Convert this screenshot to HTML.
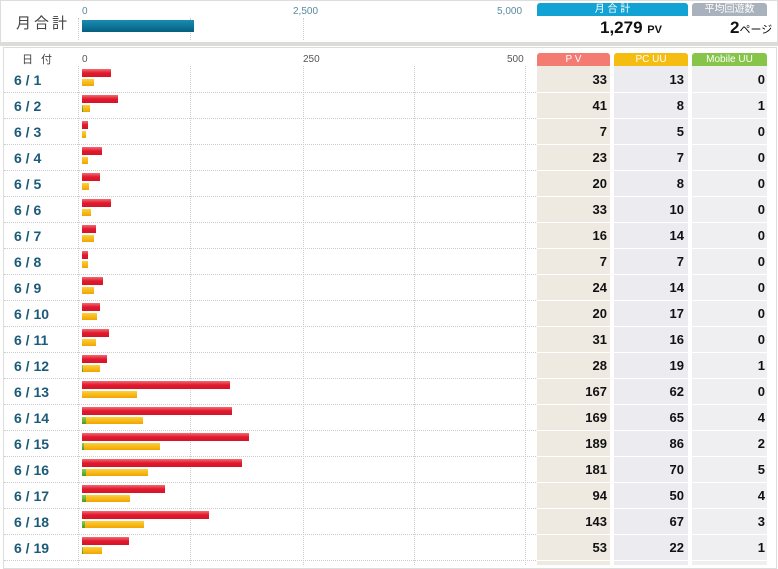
<!DOCTYPE html>
<html><head><meta charset="utf-8">
<style>
body{margin:0;width:778px;height:565px;overflow:hidden;background:#fff;font-family:"Liberation Sans","Noto Sans CJK JP",sans-serif;position:relative}
.abs{position:absolute}
.tick{position:absolute;font-size:10px;color:#5a8aa0}
.tab{position:absolute;height:13px;font-size:10px;color:#fff;text-align:center;line-height:13px;border-radius:3px 3px 0 0;overflow:hidden}
.val{position:absolute;font-weight:bold;font-size:13px;text-align:right;color:#111}
.date{position:absolute;font-weight:bold;font-size:14px;color:#1b5a78;left:14px}
</style></head><body>
<div class="abs" style="left:0;top:0;width:776px;height:41px;border:1px solid #ddd;background:#fff"></div>
<div class="abs" style="left:0;top:42px;width:778px;height:4px;background:#dcdcd8"></div>
<div class="abs" style="left:16px;top:12px;font-size:15px;color:#444;letter-spacing:3px">月合計</div>
<div class="tick" style="left:82px;top:6px">0</div>
<div class="tick" style="left:293px;top:6px">2,500</div>
<div class="tick" style="left:497px;top:6px">5,000</div>
<div class="abs" style="left:190px;top:18px;height:22px;border-left:1px dotted #ccc"></div>
<div class="abs" style="left:303px;top:18px;height:22px;border-left:1px dotted #ccc"></div>
<div class="abs" style="left:78px;top:18px;height:22px;border-left:1px dotted #ccc"></div>
<div class="abs" style="left:82px;top:20px;width:112px;height:12px;background:linear-gradient(#1a8cb4,#065f80)"></div>
<div class="tab" style="left:537px;top:3px;width:151px;background:#12a3d4">月 合 計</div>
<div class="tab" style="left:692px;top:3px;width:75px;background:#a9b2bc">平均回遊数</div>
<div class="abs" style="left:600px;top:18px;font-size:17px;font-weight:bold;color:#111">1,279 <span style="font-size:11px">PV</span></div>
<div class="abs" style="left:730px;top:18px;font-size:17px;font-weight:bold;color:#111">2<span style="font-size:11px;font-weight:normal">ページ</span></div>

<div class="abs" style="left:3px;top:47px;width:772px;height:520px;border:1px solid #ddd"></div>
<div class="abs" style="left:22px;top:51px;font-size:11px;color:#444;letter-spacing:8px">日付</div>
<div class="tick" style="left:82px;top:54px;color:#555">0</div>
<div class="tick" style="left:303px;top:54px;color:#555">250</div>
<div class="tick" style="left:507px;top:54px;color:#555">500</div>
<div id="rows"></div>
<div class="tab" style="left:537px;top:53px;width:73px;background:#f47b72">P V</div>
<div class="tab" style="left:614px;top:53px;width:74px;background:#f5bd12">PC UU</div>
<div class="tab" style="left:692px;top:53px;width:75px;background:#86c44a">Mobile UU</div>
<script>
const dates=["6 / 1","6 / 2","6 / 3","6 / 4","6 / 5","6 / 6","6 / 7","6 / 8","6 / 9","6 / 10","6 / 11","6 / 12","6 / 13","6 / 14","6 / 15","6 / 16","6 / 17","6 / 18","6 / 19"];
const pv=[33,41,7,23,20,33,16,7,24,20,31,28,167,169,189,181,94,143,53];
const pcuu=[13,8,5,7,8,10,14,7,14,17,16,19,62,65,86,70,50,67,22];
const mobile=[0,1,0,0,0,0,0,0,0,0,0,1,0,4,2,5,4,3,1];
const x0=82,scale=0.885;
const xs=v=>v*scale;
const root=document.getElementById('rows');
function mk(css,name){const d=document.createElement('div');d.style.cssText='position:absolute;'+css;


root.appendChild(d);return d;}
[190,303,414,525].forEach(x=>{mk(`left:${x}px;top:66px;height:499px;border-left:1px dotted #ccc`,'grid-line');});
mk('left:78px;top:66px;height:499px;border-left:1px dotted #ccc','date-divider');
mk('left:537px;top:52px;width:230px;height:14px;background:#fff','header-bg');
mk('left:537px;top:66px;width:73px;height:499px;background:#eeeae2','pv-column');
mk('left:614px;top:66px;width:74px;height:499px;background:#ecebf0','pcuu-column');
mk('left:692px;top:66px;width:75px;height:499px;background:#efeef1','mobile-column');
dates.forEach((d,i)=>{
 const t=66+26*i;
 mk(`left:4px;top:${t+26}px;width:532px;border-top:1px dotted #ccc`,'row-divider');
 mk(`left:537px;top:${t+26}px;width:230px;border-top:1px solid #fff`,'row-divider');
 const dl=mk(`top:${t+6}px`,'date-label');dl.className='date';dl.textContent=d;
 mk(`left:${x0}px;top:${t+3}px;width:${xs(pv[i])}px;height:8px;background:linear-gradient(#f56a72,#e01a2e 50%,#d4142a)`,'pv-bar');
 mk(`left:${x0}px;top:${t+13}px;width:${xs(mobile[i])}px;height:7px;background:linear-gradient(#8cd050,#4a9a1a)`,'mobile-bar');
 mk(`left:${x0+xs(mobile[i])}px;top:${t+13}px;width:${xs(pcuu[i])}px;height:7px;background:linear-gradient(#fcd03a,#f2a400)`,'pcuu-bar');
 [[pv[i],537,'pv-value'],[pcuu[i],614,'pcuu-value'],[mobile[i],692,'mobile-value']].forEach(([v,l,n])=>{
  const e=mk(`left:${l}px;top:${t+6}px;width:${n=='mobile-value'?73:70}px`,n);e.className='val';e.textContent=v;});
});
</script>
</body></html>
